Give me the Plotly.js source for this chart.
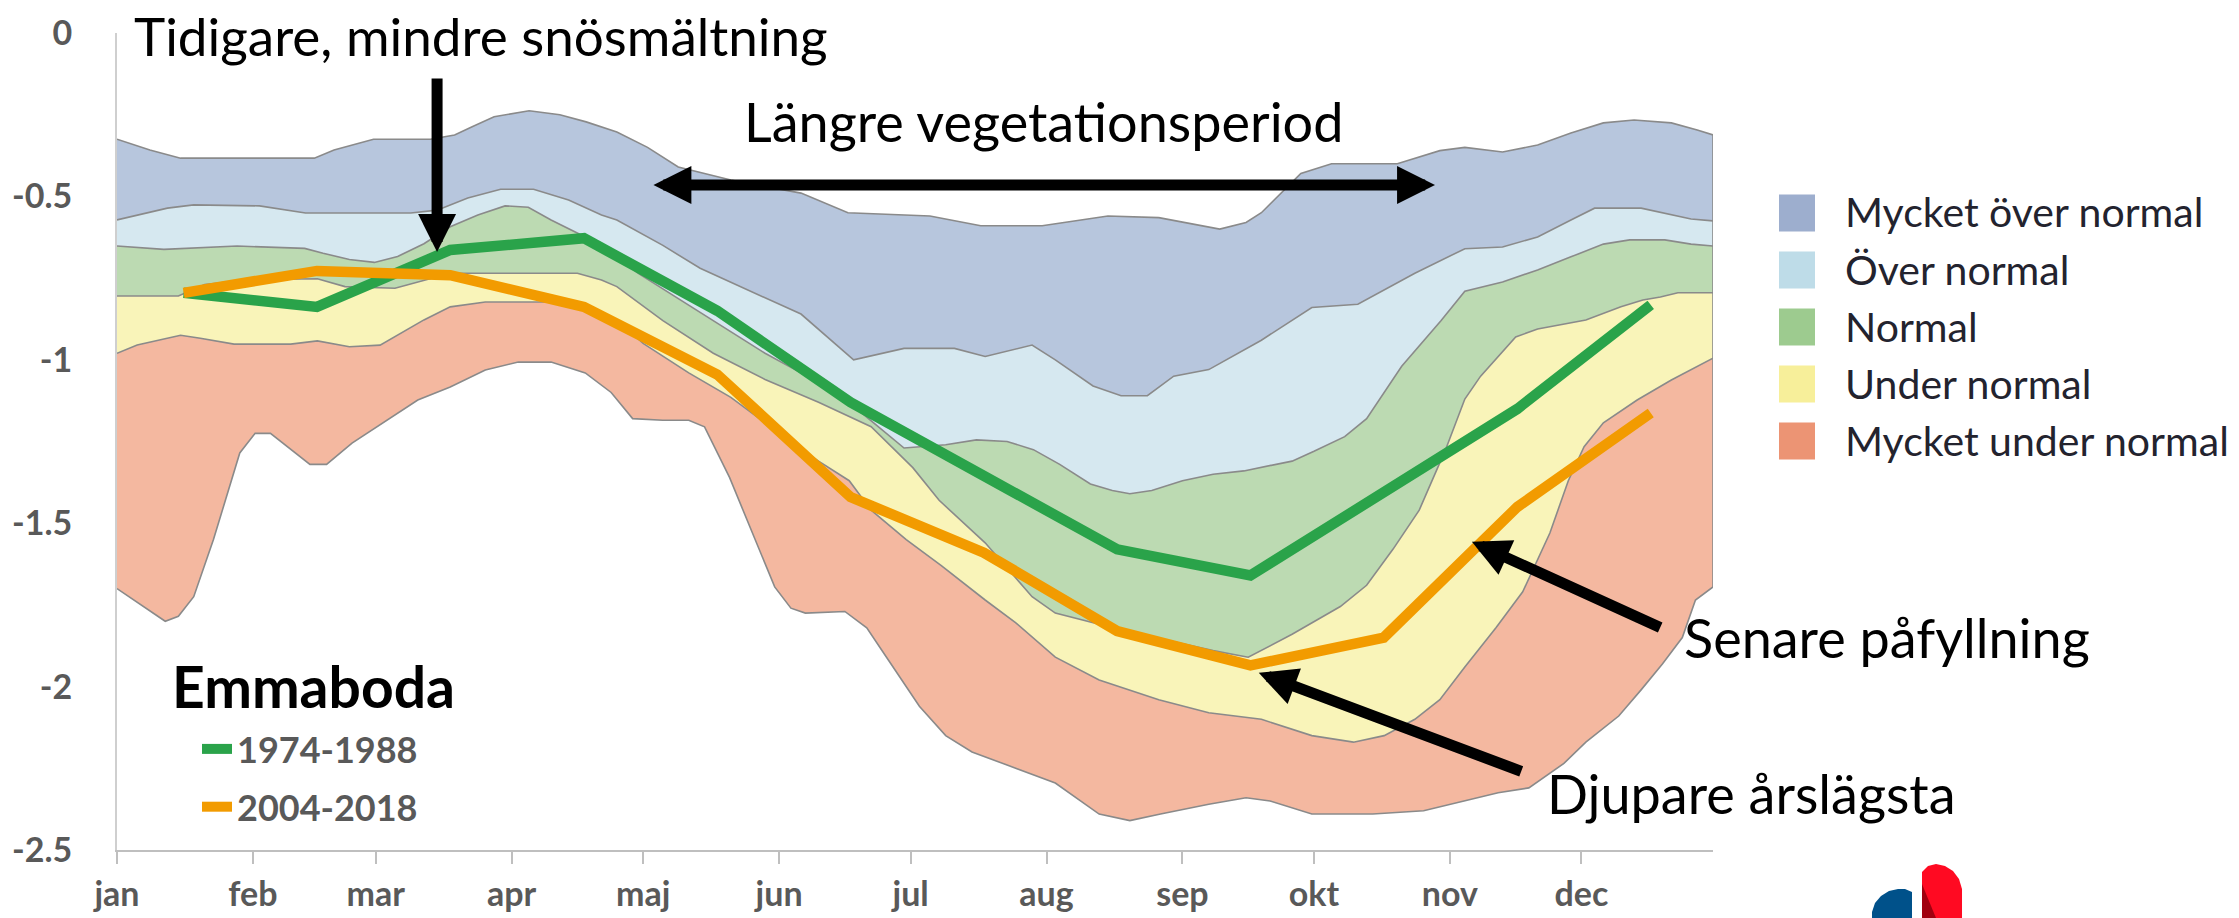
<!DOCTYPE html>
<html>
<head>
<meta charset="utf-8">
<script src="https://cdn.plot.ly/plotly-3.0.1.min.js"></script>
<style>
  html, body { margin: 0; padding: 0; background: #ffffff; }
  #chart { width: 2239px; height: 918px; }
</style>
</head>
<body>
<div id="chart"></div>
<script>
// ---------- DATA ----------
// x: day of year (0 = 1 jan), y: groundwater level (m)
const monthNames = ["jan","feb","mar","apr","maj","jun","jul","aug","sep","okt","nov","dec"];
const monthStartDays = [0,31,59,90,120,151,181,212,243,273,304,334];
const yTickVals = [0,-0.5,-1,-1.5,-2,-2.5];
const yTickText = ["0","-0.5","-1","-1.5","-2","-2.5"];

// band category names (top to bottom)
const bandNames = ["Mycket över normal","Över normal","Normal","Under normal","Mycket under normal"];

// boundary: top of "Mycket över normal"
const edgeTopX = [0,7.5,14.5,45,49.5,55,58.5,71.5,77,81,86,94,101,107,114,121,128,140,156,166.7,185.4,197,211,226,237.6,251.5,257.5,261,270,277,292,301.7,307.4,316,324,331.6,339,346,354.5,360.4,364];
const edgeTopY = [-0.325,-0.358,-0.383,-0.383,-0.358,-0.337,-0.325,-0.325,-0.312,-0.287,-0.256,-0.238,-0.25,-0.272,-0.303,-0.35,-0.41,-0.45,-0.49,-0.55,-0.56,-0.59,-0.59,-0.56,-0.565,-0.60,-0.58,-0.55,-0.43,-0.40,-0.40,-0.36,-0.35,-0.364,-0.343,-0.306,-0.275,-0.266,-0.275,-0.297,-0.312];

// boundary: "Mycket över normal" / "Över normal"
const edgeVeryHighX = [0,4.5,11.5,17.5,32.5,43,67,73,80,87.5,95,103,110.5,114,124.5,133,142,156,168,179.5,191,198,208.7,214,222.6,229,235,241,249,261,272.5,283,296,307.4,316,324,331.6,337,347.6,354.5,359,364];
const edgeVeryHighY = [-0.572,-0.557,-0.536,-0.526,-0.529,-0.551,-0.551,-0.542,-0.505,-0.478,-0.478,-0.511,-0.557,-0.572,-0.65,-0.72,-0.775,-0.86,-1.00,-0.965,-0.965,-0.99,-0.955,-1.00,-1.08,-1.11,-1.11,-1.05,-1.03,-0.94,-0.84,-0.83,-0.735,-0.66,-0.655,-0.624,-0.572,-0.536,-0.536,-0.557,-0.569,-0.575];

// boundary: "Över normal" / "Normal"
const edgeHighX = [0,10.7,27.4,42.8,47,53,58.7,64,70,76,82.3,88.5,93.8,99,106.8,114,118.8,136,147.8,156,166,179.5,189,196,203,209,215,222,227,231,236,243,250,257,268,273,280,285,288,293,302,307.4,316,324,331.6,339,345,353,359,364];
const edgeHighY = [-0.652,-0.662,-0.652,-0.659,-0.674,-0.693,-0.702,-0.684,-0.645,-0.593,-0.557,-0.529,-0.533,-0.572,-0.624,-0.684,-0.735,-0.88,-0.98,-1.04,-1.12,-1.27,-1.26,-1.245,-1.25,-1.275,-1.32,-1.38,-1.40,-1.41,-1.40,-1.37,-1.35,-1.34,-1.31,-1.28,-1.235,-1.18,-1.12,-1.02,-0.88,-0.79,-0.762,-0.725,-0.685,-0.646,-0.633,-0.633,-0.646,-0.652];

// boundary: "Normal" / "Under normal"
const edgeLowX = [0,14,20,30,45.7,52,63.4,68.6,76,105,110.5,114,124.5,136,147.8,160,172,181.5,187.5,198,208.7,214,221,230,240,250,258,268,279,285,291,297,303,307.4,311,319,324,335,343,348,352,356,364];
const edgeLowY = [-0.805,-0.805,-0.77,-0.755,-0.752,-0.776,-0.781,-0.762,-0.735,-0.735,-0.756,-0.776,-0.88,-0.98,-1.06,-1.13,-1.205,-1.33,-1.43,-1.56,-1.725,-1.775,-1.80,-1.83,-1.86,-1.89,-1.91,-1.84,-1.755,-1.69,-1.58,-1.46,-1.275,-1.12,-1.05,-0.93,-0.906,-0.878,-0.838,-0.817,-0.808,-0.795,-0.795];

// boundary: "Under normal" / "Mycket under normal"
const edgeVeryLowX = [0,4.6,14.5,19,26.7,39.6,45.7,53,60,64.7,70,76,84,103,108,114,120,130.4,140,151,160,167,172,180,188,198,205,214,224,237.6,249,261,272.5,282,289,296,301.7,307.4,314.5,320.6,326.8,331,334.6,339,346.7,354.5,359,364];
const edgeVeryLowY = [-0.98,-0.955,-0.925,-0.934,-0.952,-0.952,-0.942,-0.96,-0.955,-0.918,-0.878,-0.838,-0.823,-0.823,-0.842,-0.878,-0.95,-1.04,-1.115,-1.225,-1.31,-1.37,-1.46,-1.55,-1.63,-1.735,-1.805,-1.91,-1.98,-2.04,-2.08,-2.10,-2.15,-2.17,-2.15,-2.10,-2.04,-1.94,-1.82,-1.71,-1.53,-1.37,-1.266,-1.193,-1.123,-1.062,-1.031,-0.995];

// boundary: bottom of "Mycket under normal"
const edgeBottomX = [0,8.2,11,14,17.5,22,28,31.5,35,44,47.8,53.6,61.7,68.6,76,84,91.5,99,106.8,112.7,117.6,124.5,130.4,134,139.7,145.5,150,153.7,157,166,171,176,183,189,195,203,214,224,231,238,249,257.5,263,272.5,286.4,298,307.4,315,322,330,335,342.5,347.6,352.5,357,360,364];
const edgeBottomY = [-1.70,-1.775,-1.80,-1.785,-1.725,-1.55,-1.285,-1.225,-1.225,-1.32,-1.32,-1.255,-1.185,-1.123,-1.083,-1.031,-1.007,-1.007,-1.04,-1.10,-1.18,-1.185,-1.185,-1.205,-1.36,-1.55,-1.695,-1.76,-1.775,-1.77,-1.82,-1.92,-2.06,-2.15,-2.20,-2.24,-2.295,-2.39,-2.41,-2.39,-2.36,-2.34,-2.35,-2.39,-2.39,-2.38,-2.35,-2.325,-2.31,-2.235,-2.17,-2.09,-2.01,-1.93,-1.85,-1.735,-1.695];

// monthly mean levels for two periods (mid-month)
const periodX = [15.2,45.6,76.0,106.5,136.9,167.3,197.7,228.1,258.5,288.9,319.4,349.8];
const period1Name = "1974-1988";
const period1Y = [-0.795,-0.838,-0.664,-0.628,-0.85,-1.13,-1.355,-1.58,-1.66,-1.41,-1.15,-0.832];
const period2Name = "2004-2018";
const period2Y = [-0.795,-0.728,-0.741,-0.838,-1.045,-1.42,-1.59,-1.83,-1.935,-1.85,-1.45,-1.163];

const stationName = "Emmaboda";

// ---------- STYLE ----------
const bandFill = ["#B7C6DD","#D6E8F0","#BCDAB2","#F9F4B9","#F4B8A0"];
const bandSwatch = ["#9DAECE","#BEDCE8","#9DCB8F","#F7EF9A","#EC9474"];
const edgeColor = "#8A8A8A";
const FONT = "Lato, 'Open Sans', sans-serif";

// plot area in pixels
const PL = 117, PR = 1713, PT = 33, PB = 850;
const pxX = p => (p - PL) / (PR - PL);
const pxY = p => (PB - p) / (PB - PT);

// ---------- TRACES ----------
const edgeLine = {color: edgeColor, width: 1.6};
const traces = [
  {x: edgeBottomX, y: edgeBottomY, mode: "lines", line: edgeLine, showlegend: false, hoverinfo: "skip"},
  {x: edgeVeryLowX, y: edgeVeryLowY, mode: "lines", line: edgeLine, fill: "tonexty", fillcolor: bandFill[4], name: bandNames[4], showlegend: false, hoverinfo: "skip"},
  {x: edgeLowX, y: edgeLowY, mode: "lines", line: edgeLine, fill: "tonexty", fillcolor: bandFill[3], name: bandNames[3], showlegend: false, hoverinfo: "skip"},
  {x: edgeHighX, y: edgeHighY, mode: "lines", line: edgeLine, fill: "tonexty", fillcolor: bandFill[2], name: bandNames[2], showlegend: false, hoverinfo: "skip"},
  {x: edgeVeryHighX, y: edgeVeryHighY, mode: "lines", line: edgeLine, fill: "tonexty", fillcolor: bandFill[1], name: bandNames[1], showlegend: false, hoverinfo: "skip"},
  {x: edgeTopX, y: edgeTopY, mode: "lines", line: edgeLine, fill: "tonexty", fillcolor: bandFill[0], name: bandNames[0], showlegend: false, hoverinfo: "skip"},
  // right-hand closing edge of the area chart
  {x: [edgeTopX[edgeTopX.length-1], edgeBottomX[edgeBottomX.length-1]],
   y: [edgeTopY[edgeTopY.length-1], edgeBottomY[edgeBottomY.length-1]],
   mode: "lines", line: edgeLine, showlegend: false, hoverinfo: "skip"},
  {x: periodX, y: period1Y, mode: "lines", name: period1Name, legendgroup: "a",
   line: {color: "#2AA34A", width: 10.5}},
  {x: periodX, y: period2Y, mode: "lines", name: period2Name, legendgroup: "b",
   line: {color: "#F29B00", width: 10.5}}
];

// ---------- ANNOTATIONS ----------
const annotations = [];
function txt(text, xpx, ypx, size, anchor, extra) {
  annotations.push(Object.assign({
    xref: "paper", yref: "paper", x: pxX(xpx), y: pxY(ypx),
    xanchor: anchor, yanchor: "middle", showarrow: false, text: text,
    font: {family: FONT, size: size, color: "#000000"}
  }, extra || {}));
}
txt("Tidigare, mindre snösmältning", 132, 35, 53, "left");
txt("Längre vegetationsperiod", 1043, 122, 54, "center");
txt("Senare påfyllning", 1682, 637, 54, "left");
txt("Djupare årslägsta", 1545, 793, 54, "left");
txt("<b>" + stationName + "</b>", 170, 686, 57, "left", {font: {family: FONT, size: 57, color: "#000000", weight: 700}});

function arrow(x, y, ax, ay, both) {
  const a = {
    xref: "x", yref: "y", axref: "x", ayref: "y",
    x: x, y: y, ax: ax, ay: ay, text: "", showarrow: true,
    arrowhead: 2, arrowsize: 0.69, arrowwidth: 11, arrowcolor: "#000000",
    standoff: 0, startstandoff: 0, font: {size: 1}
  };
  if (both) { a.arrowside = "end+start"; a.startarrowhead = 2; a.startarrowsize = 0.69; }
  annotations.push(a);
}
// positions in data coordinates (day, level)
arrow(73.0, -0.670, 73.0, -0.135, false);        // snow melt arrow
arrow(300.6, -0.465, 122.0, -0.465, true);      // vegetation period
arrow(309.0, -1.557, 352.3, -1.821, false);     // later refill
arrow(260.4, -1.958, 320.6, -2.261, false);     // deeper minimum

// band legend (right)
const shapes = [];
bandNames.forEach((nm, i) => {
  const cy = 213 + i * 57;
  shapes.push({type: "rect", xref: "paper", yref: "paper",
    x0: pxX(1779), x1: pxX(1815), y0: pxY(cy + 18.5), y1: pxY(cy - 18.5),
    fillcolor: bandSwatch[i], line: {width: 0}});
  annotations.push({xref: "paper", yref: "paper", x: pxX(1843), y: pxY(cy - 1),
    xanchor: "left", yanchor: "middle", showarrow: false, text: nm,
    font: {family: FONT, size: 41, color: "#23232E"}});
});

// logo (partially visible at the bottom)
function pathPx(pts) {
  return "M" + pts.map(p => pxX(p[0]).toFixed(5) + "," + pxY(p[1]).toFixed(5)).join(" L") + " Z";
}
shapes.push({type: "path", xref: "paper", yref: "paper", fillcolor: "#00518A", line: {width: 0},
  path: pathPx([[1872,918],[1872,912],[1875,903],[1881,896],[1889,891],[1898,889],[1905,889],[1912,892],[1912,918]])});
shapes.push({type: "path", xref: "paper", yref: "paper", fillcolor: "#FF0A22", line: {width: 0},
  path: pathPx([[1922,918],[1922,872],[1928,866],[1936,864],[1945,866],[1953,871],[1959,879],[1962,889],[1962,918]])});
shapes.push({type: "path", xref: "paper", yref: "paper", fillcolor: "#A0000F", line: {width: 0},
  path: pathPx([[1922,918],[1922,884],[1936,918]])});

// ---------- LAYOUT ----------
const xTickFont = {family: FONT, size: 34, color: "#595959", weight: 700};
const yTickFont = {family: FONT, size: 34, color: "#595959", weight: 700};
const layout = {
  width: 2239, height: 918,
  margin: {l: PL, r: 2239 - PR, t: PT, b: 918 - PB, pad: 0},
  paper_bgcolor: "#ffffff", plot_bgcolor: "#ffffff",
  showlegend: true,
  legend: {
    x: pxX(197), y: pxY(719), xanchor: "left", yanchor: "top",
    bgcolor: "rgba(0,0,0,0)", borderwidth: 0,
    font: {family: FONT, size: 36, color: "#595959", weight: 700},
    tracegroupgap: 8, itemwidth: 30, traceorder: "grouped"
  },
  xaxis: {
    range: [0, 364], tickmode: "array", tickvals: monthStartDays, ticktext: monthNames,
    ticks: "outside", ticklen: 12, tickwidth: 2, tickcolor: "#BFBFBF",
    showline: true, linecolor: "#BFBFBF", linewidth: 2,
    showgrid: false, zeroline: false, tickfont: xTickFont, ticklabelstandoff: 1,
    fixedrange: true
  },
  yaxis: {
    range: [-2.5, 0], tickmode: "array", tickvals: yTickVals, ticktext: yTickText,
    ticks: "", showline: true, linecolor: "#CFCFCF", linewidth: 2,
    showgrid: false, zeroline: false, tickfont: yTickFont, ticklabelstandoff: 36,
    fixedrange: true
  },
  annotations: annotations,
  shapes: shapes,
  hovermode: false
};

Plotly.newPlot("chart", traces, layout, {displayModeBar: false, staticPlot: true});
</script>
</body>
</html>
